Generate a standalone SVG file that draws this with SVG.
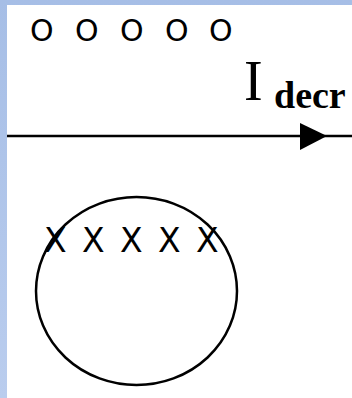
<svg xmlns="http://www.w3.org/2000/svg" width="352" height="398" viewBox="0 0 352 398">
<defs>
<linearGradient id="bg" x1="0" y1="0" x2="0" y2="1">
<stop offset="0" stop-color="#A6BEE6"/>
<stop offset="1" stop-color="#BACDEE"/>
</linearGradient>
<style>
.sym{font-family:"DejaVu Sans",Verdana,sans-serif;font-size:30px;fill:#000}
.xs{font-family:"DejaVu Sans",Verdana,sans-serif;font-size:33px;fill:#000}
.line{stroke:#000;stroke-width:2.5;fill:none}
</style>
</defs>
<rect x="0" y="0" width="352" height="398" fill="url(#bg)"/>
<rect x="7" y="5" width="345" height="393" fill="#fff"/>
<g id="dots">
<text class="sym" x="30" y="41">O</text>
<text class="sym" x="75" y="41">O</text>
<text class="sym" x="120" y="41">O</text>
<text class="sym" x="165" y="41">O</text>
<text class="sym" x="209" y="41">O</text>
</g>
<g id="current">
<line class="line" x1="7" y1="136" x2="352" y2="136"/>
<polygon points="300,123 327,136 300,150" fill="#000"/>
<text x="244" y="100" font-family="'Liberation Serif','Times New Roman',serif" font-size="56" fill="#000">I</text>
<text x="274" y="108" font-family="'Liberation Serif','Times New Roman',serif" font-size="38" font-weight="bold" fill="#000">decr</text>
</g>
<g id="loop">
<ellipse class="line" cx="136.5" cy="291" rx="100.5" ry="94"/>
<text class="xs" x="44" y="252">X</text>
<text class="xs" x="82" y="252">X</text>
<text class="xs" x="120" y="252">X</text>
<text class="xs" x="158" y="252">X</text>
<text class="xs" x="196" y="252">X</text>
</g>
</svg>
